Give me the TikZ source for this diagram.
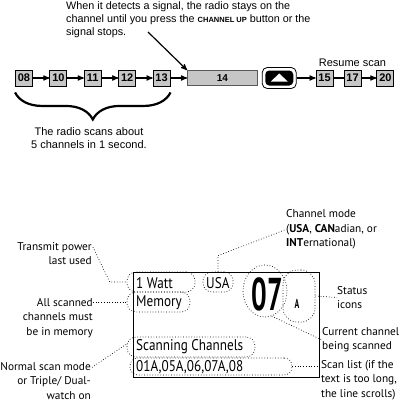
\documentclass[tikz,border=0pt]{standalone}
\usepackage{fontspec}
\setmainfont{Liberation Sans}
\newfontfamily\notefont{PT Sans}
\newfontfamily\lcdfont[FakeStretch=0.85]{PT Sans}
\newfontfamily\digitfont[FakeStretch=0.6]{PT Sans}
\usetikzlibrary{positioning,arrows,decorations.pathreplacing,shapes.geometric}

\begin{document}
\begin{tikzpicture}[x=1pt,y=-1pt,node distance=16.5pt]
		\tikzstyle{ChanStyle} = [draw, fill=gray!45, line width=0.9pt, minimum width=17pt, minimum height=16pt, inner sep=0pt, font=\bfseries\fontsize{11}{11}\selectfont]
		\tikzstyle{EdgeStyle} = [->, >=stealth', line width=1.2pt]
		\tikzstyle{RingStyle} = [draw, dotted, line width=0.7pt, rounded corners=9pt, inner sep=0pt]
		\tikzstyle{NoteStyle} = [inner sep=0pt, font=\notefont\fontsize{11.3}{14.3}\selectfont]
		\tikzstyle{NoteLine}  = [dotted, line width=0.7pt]
		\tikzstyle{LcdStyle}  = [inner sep=0pt, anchor=west, font=\lcdfont\fontsize{15.5}{15.5}\selectfont]

		\useasboundingbox (0,0) rectangle (403,405);

		% scanning row
		\node[ChanStyle] (b08) at (24,78) {08};
		\node[ChanStyle, right=of b08] (b10) {10};
		\node[ChanStyle, right=of b10] (b11) {11};
		\node[ChanStyle, right=of b11] (b12) {12};
		\node[ChanStyle, right=of b12] (b13) {13};
		\node[draw=gray!70!black, fill=gray!45, line width=0.8pt, minimum width=70pt, minimum height=15pt, inner sep=0pt,
		      font=\bfseries\fontsize{10}{10}\selectfont, right=of b13] (b14) {14};
		\node[draw, line width=0.8pt, rounded corners=5pt, minimum width=34pt, minimum height=21pt, right=4pt of b14] (upkey) {};
		\node[fill=black, rounded corners=4pt, minimum width=28pt, minimum height=15pt, inner sep=0pt] at (upkey) {};
		\fill[white] ([shift={(-8.5pt,-3.5pt)}]upkey.center) -- ([shift={(8.5pt,-3.5pt)}]upkey.center) -- ([shift={(0pt,4.5pt)}]upkey.center) -- cycle;
		\node[ChanStyle, right=19pt of upkey] (b15) {15};
		\node[ChanStyle, right=10pt of b15] (b17) {17};
		\node[ChanStyle, right=15pt of b17] (b20) {20};

		\draw[EdgeStyle] (b08) -- (b10); \draw[EdgeStyle] (b10) -- (b11); \draw[EdgeStyle] (b11) -- (b12);
		\draw[EdgeStyle] (b12) -- (b13); \draw[EdgeStyle] (b13) -- (b14); \draw[EdgeStyle] (upkey) -- (b15);
		\draw[line width=1.2pt] (b15) -- (b17); \draw[EdgeStyle] (b17) -- (b20);

		\node[anchor=north west, align=left, inner sep=0pt, font=\fontsize{10.8}{13}\selectfont] (signal) at (66,1)
		  {When it detects a signal, the radio stays on the\\channel until you press the {\fontsize{7.5}{7.5}\selectfont\bfseries CHANNEL UP} button or the\\signal stops.};
		\coordinate (sigtail) at (148,32);
		\draw[EdgeStyle] (sigtail) -- (b14.north west);
		\node[above=3pt of b17, inner sep=0pt, font=\fontsize{11}{11}\selectfont] (resume) {Resume scan};

		\draw[decorate, decoration={brace, mirror, amplitude=27pt}, line width=2.2pt] ([yshift=-6pt]b08.south west) -- ([yshift=-6pt]b13.south east);
		\node[align=center, inner sep=0pt, font=\fontsize{11}{13}\selectfont] (scannote) at (89,138.5) {The radio scans about\\5 channels in 1 second.};

		% display
		\node[draw, line width=0.8pt, minimum width=186pt, minimum height=105pt, inner sep=0pt] (lcd) at (226,324.5) {};
		\node[LcdStyle] (watt) at (136,283) {1 Watt};
		\node[LcdStyle] (usa) at (206,283) {USA};
		\node[LcdStyle] (mem) at (136,303) {Memory};
		\node[LcdStyle] (scan) at (136,347) {Scanning Channels};
		\node[LcdStyle] (list) at (136,367) {01A,05A,06,07A,08};
		\node[inner sep=0pt, font=\digitfont\bfseries\fontsize{46}{46}\selectfont] (chan) at (267,294) {07};
		\node[inner sep=0pt, font=\digitfont\bfseries\fontsize{13}{13}\selectfont] (stat) at (297,304) {A};

		\node[RingStyle, minimum width=68pt, minimum height=20pt] (wattring) at (161,282) {};
		\node[RingStyle, minimum width=30pt, minimum height=20pt] (usaring) at (218,282) {};
		\node[RingStyle, minimum width=63pt, minimum height=20pt] (memring) at (158.5,302) {};
		\node[RingStyle, minimum width=128pt, minimum height=20pt] (scanring) at (191,347) {};
		\node[RingStyle, rounded corners=8pt, minimum width=162pt, minimum height=17pt] (listring) at (211,366.5) {};
		\node[RingStyle, ellipse, minimum width=44pt, minimum height=52pt] (chanring) at (265,291) {};
		\node[RingStyle, rounded corners=14pt, minimum width=32pt, minimum height=52pt] (statring) at (299,296) {};

		% callouts
		\node[NoteStyle, align=right, anchor=east] (power) at (92,253.5) {Transmit power\\last used};
		\node[NoteStyle, align=right, anchor=east] (memnote) at (93,318) {All scanned\\channels must\\be in memory};
		\node[NoteStyle, align=right, anchor=east] (modenote) at (91,381) {Normal scan mode\\or Triple/ Dual-\\watch on};
		\node[NoteStyle, align=left, anchor=west] (chnote) at (286,229.5) {Channel mode\\(\textbf{USA}, \textbf{CAN}adian, or\\\textbf{INT}ernational)};
		\node[NoteStyle, align=left, anchor=west] (statnote) at (337,297.5) {Status\\icons};
		\node[NoteStyle, align=left, anchor=west] (curnote) at (322,340) {Current channel\\being scanned};
		\node[NoteStyle, align=left, anchor=west] (listnote) at (321,380) {Scan list (if the\\text is too long,\\the line scrolls)};

		\draw[NoteLine] ([xshift=1pt,yshift=-5pt]power.north east) -- ([xshift=-17pt]wattring.west) -- (wattring.west);
		\draw[NoteLine] (memnote.north east |- memring.west) -- (memring.west);
		\draw[NoteLine] ([xshift=1pt,yshift=-5pt]modenote.north east) -- ([yshift=3pt]scanring.west);
		\draw[NoteLine] (usaring.north) -- ([yshift=16pt]usaring.north) -- (chnote.west);
		\draw[NoteLine] (statring.east) -- (statnote.west);
		\draw[NoteLine] (chanring.-75) -- (curnote.west);
		\draw[NoteLine] (listring.east) -- (listring.east -| listnote.west);
	\end{tikzpicture}
\end{document}
